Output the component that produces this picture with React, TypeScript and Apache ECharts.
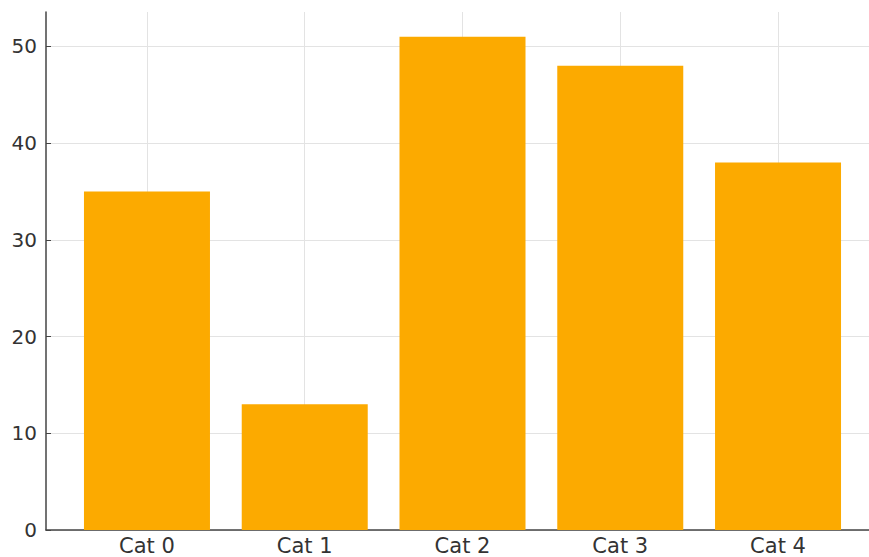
import React, { useEffect, useRef } from "react";
import * as echarts from "echarts";

const categories = ["Cat 0", "Cat 1", "Cat 2", "Cat 3", "Cat 4"];
const values = [35, 13, 51, 48, 38];
const yTicks = [0, 10, 20, 30, 40, 50];
const xTicks = [0, 1, 2, 3, 4];

export default function App() {
  const ref = useRef<HTMLDivElement>(null);
  useEffect(() => {
    document.body.style.margin = "0";
    const chart = echarts.init(ref.current!, null, { renderer: "svg" });
    const font = "DejaVu Sans";
    chart.setOption({
      animation: false,
      backgroundColor: "#ffffff",
      grid: { left: 46, top: 12, bottom: 27, right: 0, containLabel: false },
      xAxis: {
        type: "value",
        min: -0.64,
        max: 4.64,
        axisLine: { show: true, onZero: false, lineStyle: { color: "#444444", width: 1.5 } },
        axisTick: { show: true, inside: true, length: 5, customValues: xTicks, lineStyle: { color: "#444444", width: 1 } },
        axisLabel: {
          customValues: xTicks,
          formatter: (v: number) => categories[Math.round(v)] ?? "",
          color: "#333333",
          fontFamily: font,
          fontSize: 21,
          margin: 5,
        },
        splitLine: { show: true, lineStyle: { color: "#e3e3e3", width: 1 } },
      },
      yAxis: {
        type: "value",
        min: 0,
        max: 53.55,
        axisLine: { show: true, onZero: false, lineStyle: { color: "#444444", width: 1.5 } },
        axisTick: { show: true, inside: true, length: 5, customValues: yTicks, lineStyle: { color: "#444444", width: 1 } },
        axisLabel: {
          customValues: yTicks,
          color: "#333333",
          fontFamily: font,
          fontSize: 20,
          margin: 9,
        },
        splitLine: { show: true, lineStyle: { color: "#e3e3e3", width: 1 } },
      },
      series: [
        {
          type: "bar",
          data: values.map((v, i) => [i, v]),
          barWidth: 126,
          itemStyle: { color: "#FCAA00" },
        },
      ],
    });
    return () => chart.dispose();
  }, []);
  return (
    <div style={{ width: 869, height: 557, overflow: "hidden", position: "relative" }}>
      <div ref={ref} style={{ width: 879, height: 557 }} />
    </div>
  );
}
